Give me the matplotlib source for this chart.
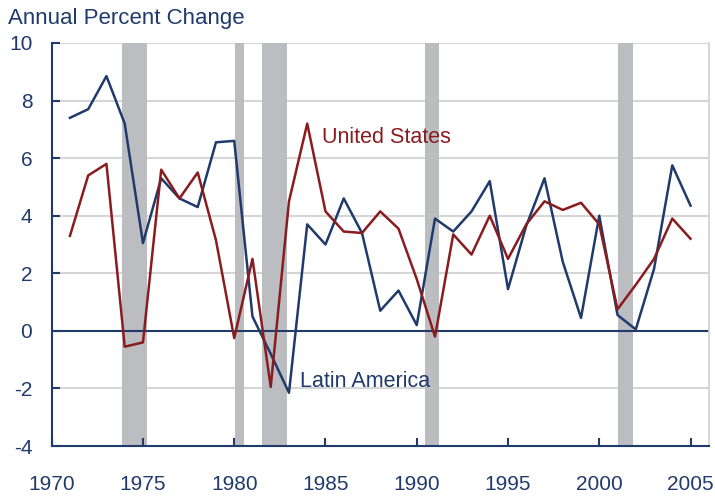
import matplotlib.pyplot as plt
import numpy as np

plt.rcParams['font.family'] = ['Liberation Sans', 'DejaVu Sans']
plt.rcParams['axes.unicode_minus'] = False

years = list(range(1971, 2006))
us_growth = [3.3, 5.4, 5.8, -0.55, -0.4, 5.6, 4.6, 5.5, 3.15, -0.25,
             2.5, -1.95, 4.5, 7.2, 4.15, 3.45, 3.4, 4.15, 3.55, 1.8,
             -0.2, 3.35, 2.65, 4.0, 2.5, 3.7, 4.5, 4.2, 4.45, 3.7,
             0.75, 1.6, 2.5, 3.9, 3.2]
latam_growth = [7.4, 7.7, 8.85, 7.2, 3.05, 5.3, 4.6, 4.3, 6.55, 6.6,
                0.5, -0.8, -2.15, 3.7, 3.0, 4.6, 3.4, 0.7, 1.4, 0.2,
                3.9, 3.45, 4.15, 5.2, 1.45, 3.65, 5.3, 2.4, 0.45, 4.0,
                0.55, 0.05, 2.15, 5.75, 4.35]
# recession periods (start, end) in fractional years
recessions = [(1973.85, 1975.2), (1980.05, 1980.55), (1981.5, 1982.9),
              (1990.45, 1991.2), (2001.0, 2001.85)]
yticks = [-4, -2, 0, 2, 4, 6, 8, 10]
xticks = [1970, 1975, 1980, 1985, 1990, 1995, 2000, 2005]

navy = '#1f3a6b'
red = '#8a1c1f'
grey = '#bcbdc1'

fig = plt.figure(figsize=(7.15, 4.97), dpi=100)
ax = fig.add_axes([0.0723, 0.1026, 0.9190, 0.8109])

for start, end in recessions:
    ax.axvspan(start, end, color=grey, lw=0, zorder=1)

for y in [-2, 2, 4, 6, 8, 10]:
    ax.axhline(y, color='#d6d6d6', lw=1.5, zorder=0)
ax.axhline(0, color=navy, lw=1.5, zorder=2)

ax.plot(years, latam_growth, color=navy, lw=1.8, zorder=3)
ax.plot(years, us_growth, color=red, lw=1.8, zorder=4)

ax.set_xlim(1970, 2006)
ax.set_ylim(-4, 10)
ax.set_xticks(xticks)
ax.set_yticks(yticks)
ax.tick_params(direction='in', length=6, width=1.5, color=navy,
               labelcolor=navy, labelsize=15)
ax.tick_params(axis='x', pad=21)
ax.tick_params(axis='y', pad=14)

for side in ['left', 'bottom']:
    ax.spines[side].set_color(navy)
    ax.spines[side].set_linewidth(1.5)
ax.spines['top'].set_visible(False)
ax.spines['right'].set_color('#cfcfcf')
ax.spines['right'].set_linewidth(1.2)

ax.text(1984.8, 6.7, 'United States', color=red, fontsize=15.5, va='center')
ax.text(1983.6, -1.75, 'Latin America', color=navy, fontsize=15.5, va='center')

fig.text(0.011, 0.963, 'Annual Percent Change', color=navy, fontsize=16,
         va='center', ha='left')

fig.savefig('out.png', dpi=100)
